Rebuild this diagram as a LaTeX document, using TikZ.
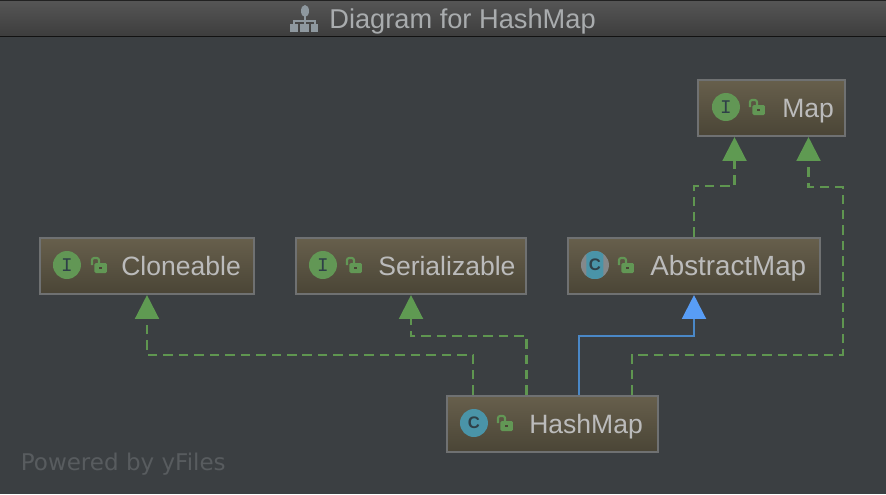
\documentclass[tikz,border=0pt]{standalone}
\usepackage{fontspec}
\setmainfont{Liberation Sans}
\setmonofont{Liberation Mono}
\newfontfamily\yfilesfont{DejaVu Sans}
\usetikzlibrary{calc,arrows.meta}
\definecolor{canvasgray}{HTML}{3B3F42}
\definecolor{bartop}{HTML}{565656}
\definecolor{barbottom}{HTML}{3D3D3D}
\definecolor{titlegray}{HTML}{A9ACAE}
\definecolor{titleicon}{HTML}{8E989F}
\definecolor{boxtop}{HTML}{675F4C}
\definecolor{boxbottom}{HTML}{4A4536}
\definecolor{boxborder}{HTML}{6F7172}
\definecolor{labelgray}{HTML}{BBBBBB}
\definecolor{implgreen}{HTML}{5F9650}
\definecolor{tipgreen}{HTML}{5F9A52}
\definecolor{extblue}{HTML}{4A88C7}
\definecolor{tipblue}{HTML}{589DF6}
\definecolor{ifacegreen}{HTML}{629755}
\definecolor{classteal}{HTML}{4A94A8}
\definecolor{lettergray}{HTML}{2F4048}
\definecolor{abstractgray}{HTML}{84888A}
\definecolor{yfilesgray}{HTML}{585C5F}
\tikzset{
  classbox/.style={draw=boxborder,line width=1.2pt,top color=boxtop,bottom color=boxbottom,minimum height=1.12cm,inner sep=0pt},
  classtext/.style={anchor=base west,inner sep=0pt,text=labelgray,font=\fontsize{15.1pt}{18pt}\selectfont},
  iconbase/.style={circle,minimum size=0.56cm,inner sep=0pt,text=lettergray},
  ifaceicon/.style={iconbase,fill=ifacegreen,font=\ttfamily\fontsize{11pt}{12pt}\selectfont},
  classicon/.style={iconbase,fill=classteal,font=\bfseries\fontsize{9.5pt}{10pt}\selectfont},
  abstracticon/.style={classicon,fill=abstractgray,path picture={
      \fill[classteal,rounded corners=1pt] ($(path picture bounding box.center)+(-8.5,-15)$) rectangle ++(17,30);}},
  implline/.style={implgreen,line width=1.3pt,dash pattern=on 5.4pt off 3.4pt,
      -{Triangle[length=13.6pt,width=13.6pt,color=tipgreen]}},
  extline/.style={extblue,line width=1.3pt,
      -{Triangle[length=13.6pt,width=13.6pt,color=tipblue]}},
  lockicon/.pic={
      \draw[ifacegreen,line width=1.2pt,rounded corners=1.2pt] (-8,-1) -- (-8,-8) -- (-1,-8) -- (-1,-3);
      \fill[ifacegreen,rounded corners=0.8pt] (-5.5,-3) rectangle (7,7);
      \fill[boxbottom] (-0.5,1) rectangle (2.5,3);
  }
}
\begin{document}
\begin{tikzpicture}[x=0.02cm,y=-0.02cm]
  \useasboundingbox (0,0) rectangle (886,494);
  \fill[canvasgray] (0,0) rectangle (886,494);

  % title bar
  \shade[top color=bartop,bottom color=barbottom] (0,0) rectangle (886,36);
  \draw[line width=0.6pt,color=black!45!barbottom] (0,0.5) -- (886,0.5);
  \draw[line width=0.6pt,color=black!70!barbottom] (0,36.5) -- (886,36.5);
  \node[anchor=base west,inner sep=0pt,text=titlegray,font=\fontsize{15.5pt}{18pt}\selectfont] (title) at (329,28) {Diagram for HashMap};
  \fill[titleicon] (305,11) ellipse (4 and 6);
  \draw[titleicon,line width=0.6pt] (305,16) -- (305,25) (294,25) -- (294,21) -- (315,21) -- (315,25);
  \fill[titleicon] (290,24) rectangle (298,32);
  \fill[titleicon] (300,24) rectangle (309,32);
  \fill[titleicon] (311,24) rectangle (318,32);

  % classes
  \node[classbox,minimum width=2.94cm] (map) at (771.5,108) {};
  \node[ifaceicon] (mapicon) at ($(map.west)+(29,-1)$) {I};
  \pic at ($(map.west)+(61,0)$) {lockicon};
  \node[classtext] (maplabel) at ($(map.west)+(85,9)$) {Map};

  \node[classbox,minimum width=4.28cm] (cloneable) at (147,266) {};
  \node[ifaceicon] (cloneableicon) at ($(cloneable.west)+(28,-1)$) {I};
  \pic at ($(cloneable.west)+(61,0)$) {lockicon};
  \node[classtext] (cloneablelabel) at ($(cloneable.west)+(82,9)$) {Cloneable};

  \node[classbox,minimum width=4.6cm] (serializable) at (411,266) {};
  \node[ifaceicon] (serializableicon) at ($(serializable.west)+(28,-1)$) {I};
  \pic at ($(serializable.west)+(60,0)$) {lockicon};
  \node[classtext] (serializablelabel) at ($(serializable.west)+(83,9)$) {Serializable};

  \node[classbox,minimum width=5.04cm] (abstractmap) at (694,266) {};
  \node[abstracticon] (abstractmapicon) at ($(abstractmap.west)+(28,-1)$) {C};
  \pic at ($(abstractmap.west)+(60,0)$) {lockicon};
  \node[classtext,font=\fontsize{15.8pt}{18pt}\selectfont] (abstractmaplabel) at ($(abstractmap.west)+(83,9)$) {AbstractMap};

  \node[classbox,minimum width=4.22cm] (hashmap) at (552.5,424) {};
  \node[classicon] (hashmapicon) at ($(hashmap.west)+(28,-1)$) {C};
  \pic at ($(hashmap.west)+(60,0)$) {lockicon};
  \node[classtext] (hashmaplabel) at ($(hashmap.west)+(83,9)$) {HashMap};

  % connectors
  \coordinate (maprail) at (843,187);
  \draw[implline] (abstractmap.north) -- ++(0,-51) -| ($(map.south)+(-37,0)$);
  \draw[implline] ($(hashmap.north west)+(186,0)$) -- ++(0,-40) -| (maprail) -| ($(map.south)+(37,0)$);
  \draw[implline] ($(hashmap.north west)+(27,0)$) -- ++(0,-40) -| (cloneable.south);
  \draw[implline] ($(hashmap.north west)+(80.5,0)$) -- ++(0,-59) -| (serializable.south);
  \draw[extline] ($(hashmap.north west)+(133,0)$) -- ++(0,-59) -| (abstractmap.south);

  \node[anchor=base west,inner sep=0pt,text=yfilesgray,font=\yfilesfont\fontsize{13.1pt}{14pt}\selectfont] (poweredby) at (20.5,470) {Powered by yFiles};
\end{tikzpicture}
\end{document}
